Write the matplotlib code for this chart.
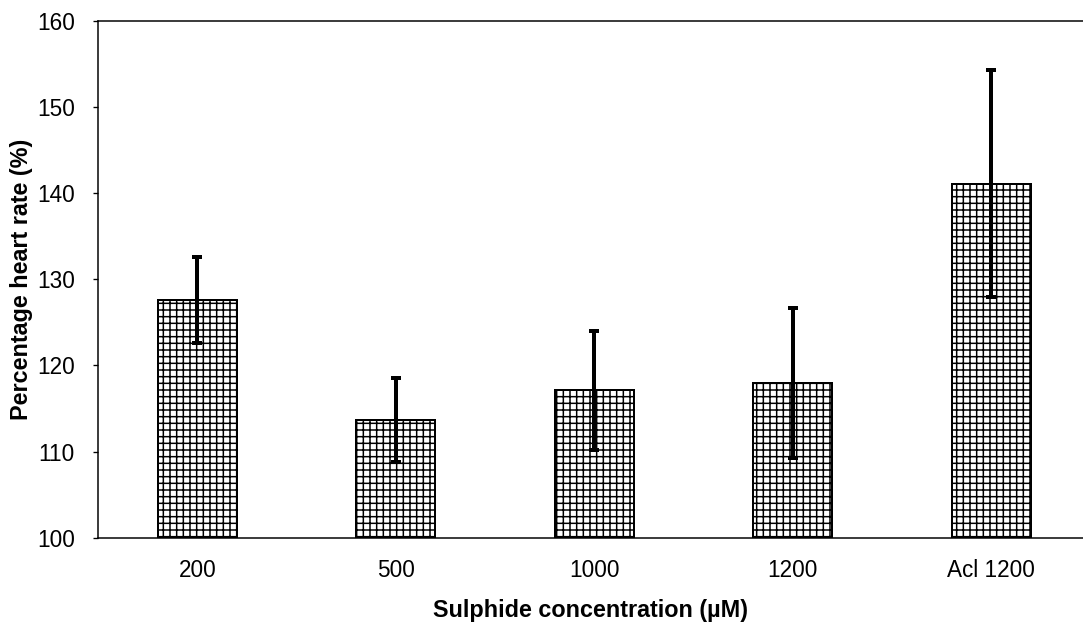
import matplotlib
matplotlib.use('Agg')
import matplotlib.pyplot as plt

plt.rcParams['font.family'] = ['Liberation Sans', 'DejaVu Sans']
plt.rcParams['hatch.linewidth'] = 0.9

# Data
konsentrasi = ['200', '500', '1000', '1200', 'Acl 1200']
rata_rata = [127.6, 113.7, 117.1, 118.0, 141.1]
galat = [5.0, 4.9, 6.9, 8.7, 13.2]

fig = plt.figure(figsize=(1083 / 120, 624 / 120), dpi=120)
ax = fig.add_axes([98 / 1083, 1 - 537.7 / 624, 1 - 98 / 1083, (537.7 - 21) / 624])

posisi = list(range(len(konsentrasi)))
ax.bar(posisi, [v - 100 for v in rata_rata], bottom=100, width=0.4,
       color='white', edgecolor='black', hatch='+++', linewidth=1.2, zorder=2)
ax.errorbar(posisi, rata_rata, yerr=galat, fmt='none', ecolor='black',
            elinewidth=2.4, capsize=3, capthick=2.4, zorder=3)

ax.set_xlim(-0.5, (1083 - 98) / 198.5 - 0.5)
ax.set_ylim(100, 160)
ax.set_yticks(range(100, 161, 10))
ax.set_xticks(posisi)
ax.set_xticklabels(konsentrasi)
ax.tick_params(axis='x', length=0, labelsize=13.5, pad=13)
ax.tick_params(axis='y', length=3, width=0.8, labelsize=13.5, pad=11)

for s in ['left', 'bottom', 'top']:
    ax.spines[s].set_linewidth(0.9)
ax.spines['right'].set_visible(False)

ax.set_xlabel('Sulphide concentration (µM)', fontsize=14, fontweight='bold', labelpad=10)
ax.set_ylabel('Percentage heart rate (%)', fontsize=14, fontweight='bold', labelpad=2)

fig.savefig('out.png', dpi=120)
